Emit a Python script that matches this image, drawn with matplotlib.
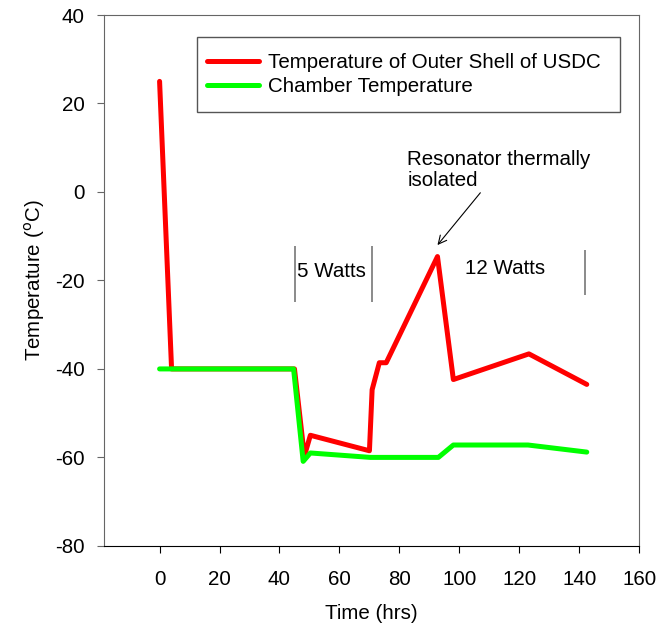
import matplotlib.pyplot as plt
from matplotlib.patches import Rectangle

plt.rcParams['font.family'] = ['Liberation Sans', 'DejaVu Sans']
plt.rcParams['axes.unicode_minus'] = False

# outer shell of the USDC
shell_t = [0, 4, 45, 48.3, 50.3, 70, 70.9, 73.3, 75.6, 92.7, 98, 123.2, 142.5]
shell_temp = [25, -40, -40, -59.7, -55, -58.5, -44.7, -38.6, -38.6, -14.6, -42.4, -36.6, -43.5]

# chamber
chamber_t = [0, 44.7, 47.9, 50.3, 70.3, 93, 98, 122.9, 142.5]
chamber_temp = [-40, -40, -60.9, -59, -60, -60, -57.2, -57.2, -58.8]

# heater power markers
power_marks = [45.3, 70.9, 141.9]
mark_lo = [-24.8, -24.8, -23.3]
mark_hi = [-12.3, -12.3, -13.2]

fs = 14.8

fig = plt.figure(figsize=(6.59, 6.26), dpi=100)
ax = fig.add_axes([0.158, 0.128, 0.812, 0.848])

ax.plot(shell_t, shell_temp, color='#ff0000', lw=3.6, solid_capstyle='round',
        label='Temperature of Outer Shell of USDC')
ax.plot(chamber_t, chamber_temp, color='#00ff00', lw=3.6, solid_capstyle='round',
        label='Chamber Temperature')

ax.vlines(power_marks, mark_lo, mark_hi, color='#777777', lw=1.2)
ax.text(46, -18, '5 Watts', fontsize=fs, va='center', ha='left')
ax.text(115.3, -17.2, '12 Watts', fontsize=fs, va='center', ha='center')

ax.annotate('Resonator thermally\nisolated', xy=(92.7, -12.0), xytext=(82.7, 5.0),
            fontsize=fs, ha='left', va='center', linespacing=1.15,
            arrowprops=dict(arrowstyle='->', color='black', lw=0.8, shrinkA=0, shrinkB=0))

ax.set_xlim(-18.5, 160)
ax.set_ylim(-80, 40)
ax.set_xticks(range(0, 161, 20))
ax.set_yticks(range(-80, 41, 20))

for side in ['left', 'top', 'right']:
    ax.spines[side].set_color('#666666')
ax.spines['bottom'].set_color('black')
ax.tick_params(axis='x', direction='out', length=5, pad=12.5, labelsize=fs, color='black')
ax.tick_params(axis='y', direction='out', length=5, pad=9, labelsize=fs, color='#666666')

ax.set_xlabel('Time (hrs)', fontsize=fs, labelpad=11)
ax.set_ylabel('Temperature ($^{\\mathrm{o}}$C)', fontsize=fs, labelpad=6)

# legend entries without frame, box drawn separately
leg = ax.legend(loc='center left', bbox_to_anchor=(0.1925, 0.888), fontsize=fs,
                frameon=False, handlelength=2.5, borderpad=0, labelspacing=0.26,
                handletextpad=0.45, borderaxespad=0)
ax.add_patch(Rectangle((0.1738, 0.818), 0.7907, 0.1405, transform=ax.transAxes,
                       fill=False, edgecolor='#555555', lw=1.0, zorder=5))

fig.savefig('out.png', dpi=100)
